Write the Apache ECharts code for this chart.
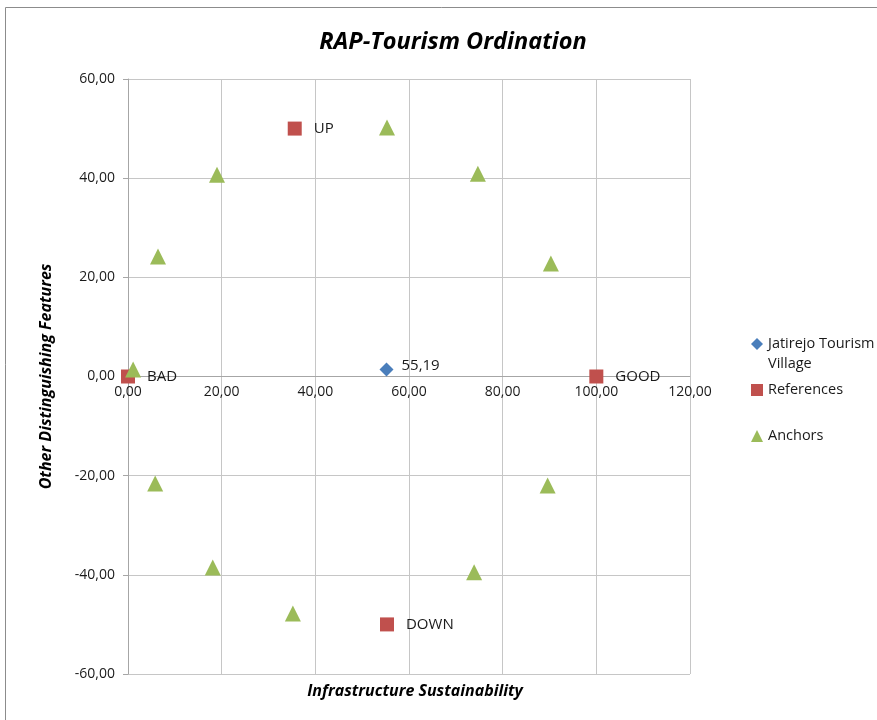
<!DOCTYPE html>
<html><head><meta charset="utf-8">
<script src="https://cdn.jsdelivr.net/npm/echarts@6/dist/echarts.min.js"></script>
<style>html,body{margin:0;padding:0;background:#fff}#c{width:877px;height:720px}</style>
</head><body><div id="c"></div>
<script>
const villagePoint = [[55.19, 1.4]];
const referenceNames = ['BAD', 'GOOD', 'UP', 'DOWN'];
const referencePoints = [[0, 0], [100, 0], [35.6, 50], [55.3, -50]];
const anchorPoints = [
  [55.3, 50.2], [74.7, 40.9], [90.3, 22.8], [89.6, -22], [73.9, -39.5],
  [35.2, -47.8], [18.1, -38.5], [5.8, -21.6], [1.1, 1.4], [6.4, 24.2], [19, 40.7]
];
const seriesNames = ['Jatirejo Tourism Village', 'References', 'Anchors'];

const fmt = v => v.toFixed(2).replace('.', ',');
const FONT = 'Open Sans';
const GRID_TOP = 79, GRID_BOTTOM = 46, H = 720;
const legendText = {fontFamily: FONT, fontSize: 14.5, color: '#1a1a1a', lineHeight: 20};
const mkLegend = (name, icon, top, formatter) => ({
  orient: 'vertical', left: 751, top: top, padding: 0, itemWidth: 12, itemHeight: 12, itemGap: 0,
  textStyle: legendText, formatter: formatter || (n => n), selectedMode: false,
  data: [{name: name, icon: icon}]
});
const chart = echarts.init(document.getElementById('c'));
chart.setOption({
  animation: false,
  backgroundColor: '#fff',
  graphic: [{type: 'rect', shape: {x: 5.5, y: 7.5, width: 900, height: 720}, style: {fill: 'none', stroke: '#8c8c8c', lineWidth: 1}}],
  title: [
    {text: 'RAP-Tourism Ordination', left: 448, top: 26, textAlign: 'center',
     textStyle: {fontFamily: FONT, fontSize: 23.5, fontWeight: 'bold', fontStyle: 'italic', color: '#000'}},
    {text: 'Infrastructure Sustainability', left: 410, top: 678, textAlign: 'center',
     textStyle: {fontFamily: FONT, fontSize: 16, fontWeight: 'bold', fontStyle: 'italic', color: '#000'}}
  ],
  legend: [
    mkLegend(seriesNames[0], 'diamond', 314, () => '\nJatirejo Tourism\nVillage'),
    mkLegend(seriesNames[1], 'rect', 380),
    mkLegend(seriesNames[2], 'triangle', 426)
  ],
  grid: {left: 128, right: 187, top: GRID_TOP, bottom: GRID_BOTTOM},
  xAxis: {
    type: 'value', min: 0, max: 120, interval: 20,
    // the horizontal axis crosses the vertical one at 0 (middle of the -60..60 range)
    offset: -(H - GRID_TOP - GRID_BOTTOM) / 2,
    axisLine: {onZero: false, lineStyle: {color: '#a6a6a6'}},
    axisTick: {show: false},
    axisLabel: {formatter: v => fmt(v), fontFamily: FONT, fontSize: 14, color: '#1a1a1a', margin: 9},
    splitLine: {show: true, lineStyle: {color: '#c6c6c6'}}
  },
  yAxis: {
    type: 'value', min: -60, max: 60, interval: 20,
    name: 'Other Distinguishing Features', nameLocation: 'middle', nameGap: 74, nameRotate: 90,
    nameTextStyle: {fontFamily: FONT, fontSize: 16, fontWeight: 'bold', fontStyle: 'italic', color: '#000'},
    axisLine: {onZero: false, lineStyle: {color: '#a6a6a6'}},
    axisTick: {show: true, length: 5, lineStyle: {color: '#a6a6a6'}},
    axisLabel: {formatter: v => fmt(v), fontFamily: FONT, fontSize: 14, color: '#1a1a1a', margin: 13},
    splitLine: {show: true, lineStyle: {color: '#c6c6c6'}}
  },
  series: [
    {name: seriesNames[0], type: 'scatter', symbol: 'diamond', symbolSize: 14,
     itemStyle: {color: '#4a7ebb', opacity: 1}, data: villagePoint,
     label: {show: true, position: 'right', distance: 8, offset: [0, -4], formatter: p => fmt(p.value[0]),
             fontFamily: FONT, fontSize: 15, color: '#1a1a1a'}},
    {name: seriesNames[1], type: 'scatter', symbol: 'rect', symbolSize: 14,
     itemStyle: {color: '#c0504d', opacity: 1},
     data: referencePoints.map((p, i) => ({name: referenceNames[i], value: p})),
     label: {show: true, position: 'right', distance: 12, formatter: '{b}',
             fontFamily: FONT, fontSize: 15, color: '#1a1a1a'}},
    {name: seriesNames[2], type: 'scatter', symbol: 'triangle', symbolSize: 16,
     itemStyle: {color: '#9bbb59', opacity: 1}, data: anchorPoints}
  ]
});
</script></body></html>
